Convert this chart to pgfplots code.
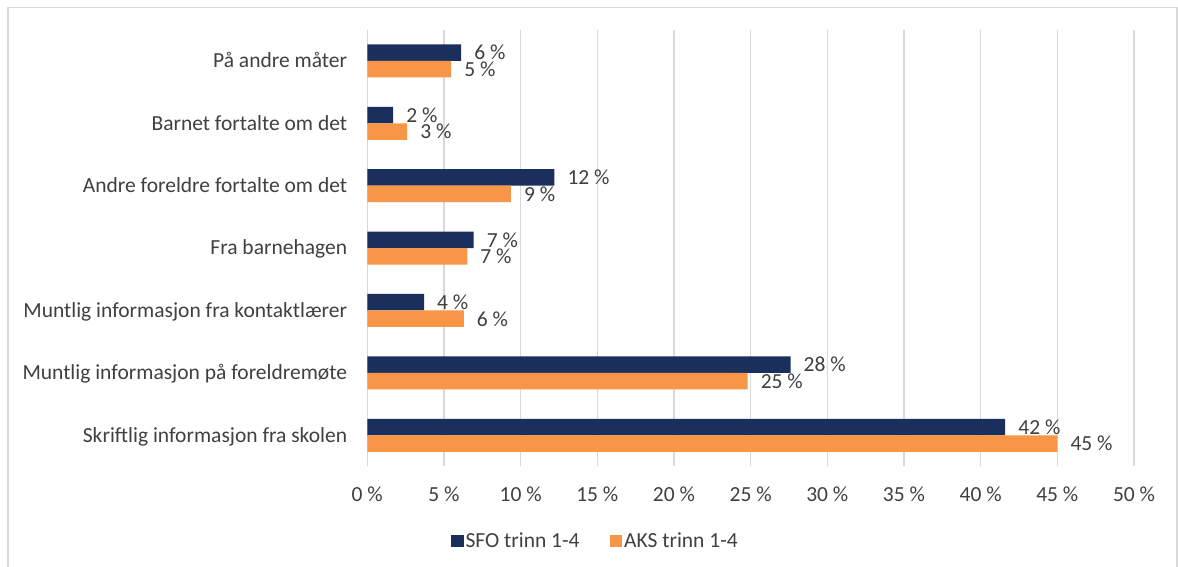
\documentclass[border=0pt]{standalone}
\usepackage{pgfplots}
\pgfplotsset{compat=1.18}
\usepackage{fontspec}
\setmainfont{Carlito}
\definecolor{navy}{HTML}{1B2F5C}
\definecolor{orng}{HTML}{F79646}
\definecolor{txt}{HTML}{404040}
\definecolor{grd}{HTML}{D9D9D9}
\newcommand{\cf}{\fontsize{21.5bp}{25bp}\selectfont}
\begin{document}
\begin{tikzpicture}[x=1bp,y=1bp]
\useasboundingbox (0,0) rectangle (1178,567);
\fill[white] (0,0) rectangle (1178,567);
\draw[grd, line width=1.5bp] (8.2,0) -- (8.2,559.7) -- (1177,559.7) -- (1177,0);
\begin{axis}[
  at={(367.3bp,100.5bp)}, anchor=south west,
  width=766.7bp, height=436.8bp, scale only axis,
  xbar, bar width=16.5bp,
  xmin=0, xmax=50, ymin=-0.5, ymax=6.5,
  axis line style={draw=none},
  major tick length=0pt, tick style={draw=none},
  xmajorgrids, grid style={grd, line width=1.5bp},
  xtick={0,5,...,50},
  xticklabels={0 \%,5 \%,10 \%,15 \%,20 \%,25 \%,30 \%,35 \%,40 \%,45 \%,50 \%},
  ytick={0,...,6},
  yticklabels={Skriftlig informasjon fra skolen,Muntlig informasjon på foreldremøte,Muntlig informasjon fra kontaktlærer,Fra barnehagen,Andre foreldre fortalte om det,Barnet fortalte om det,På andre måter},
  xticklabel style={font=\cf, text=txt, anchor=base, yshift=-35.5bp, inner sep=0pt},
  yticklabel style={font=\cf, text=txt, anchor=base east, xshift=-20bp, yshift=-6.8bp, inner sep=0pt},
  point meta=explicit symbolic,
  nodes near coords={\pgfplotspointmeta\ \%},
  every node near coord/.append style={font=\cf, text=txt, anchor=base west, xshift=13bp, yshift=-7.3bp, inner sep=0pt},
  legend columns=2,
  legend style={at={(0.2975,-0.1706)}, anchor=center, draw=none, fill=none, font=\cf, text=txt,
    /tikz/every even column/.append style={column sep=28bp},
    nodes={inner sep=2bp}},
  legend image code/.code={\fill (0bp,-6.2bp) rectangle (12.5bp,6.2bp);},
  clip=false,
]
\addplot[fill=navy, draw=none, bar shift=8.25bp] table[x=v, y=y, meta=l] {
y v l
0 41.6 42
1 27.6 28
2 3.70 4
3 6.94 7
4 12.2 12
5 1.68 2
6 6.12 6
};
\addlegendentry{SFO trinn 1-4}
\addplot[fill=orng, draw=none, bar shift=-8.25bp] table[x=v, y=y, meta=l] {
y v l
0 45.0 45
1 24.8 25
2 6.29 6
3 6.52 7
4 9.36 9
5 2.60 3
6 5.47 5
};
\addlegendentry{AKS trinn 1-4}
\end{axis}
\end{tikzpicture}
\end{document}
